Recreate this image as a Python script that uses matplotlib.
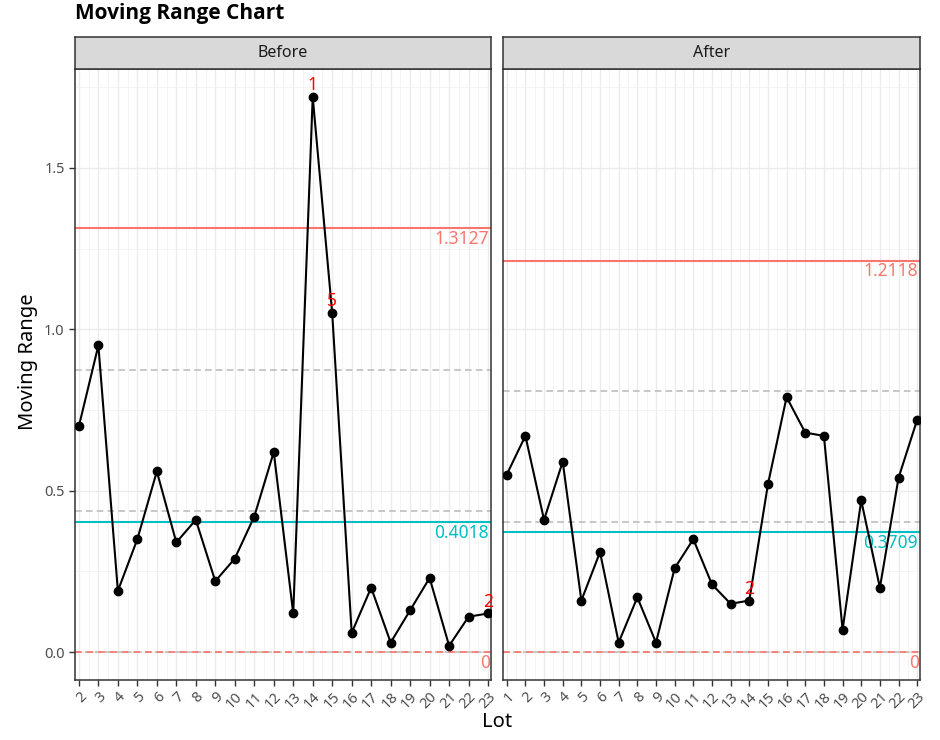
import matplotlib
matplotlib.use("Agg")
import matplotlib.pyplot as plt
from matplotlib.ticker import MultipleLocator

plt.rcParams['font.family'] = ['Noto Sans', 'DejaVu Sans']

# data
lots_before = list(range(2, 24))
mr_before = [0.70, 0.95, 0.19, 0.35, 0.56, 0.34, 0.41, 0.22, 0.29, 0.42, 0.62,
             0.12, 1.72, 1.05, 0.06, 0.20, 0.03, 0.13, 0.23, 0.02, 0.11, 0.12]
lots_after = list(range(1, 24))
mr_after = [0.55, 0.67, 0.41, 0.59, 0.16, 0.31, 0.03, 0.17, 0.03, 0.26, 0.35, 0.21,
            0.15, 0.16, 0.52, 0.79, 0.68, 0.67, 0.07, 0.47, 0.20, 0.54, 0.72]

ucl = {"Before": 1.3127, "After": 1.2118}
cl = {"Before": 0.4018, "After": 0.3709}
lcl = {"Before": 0.0, "After": 0.0}
zones = {"Before": [0.4376, 0.8751], "After": [0.4039, 0.8079]}

# rule violations (lot, label)
flags = {"Before": [(14, "1"), (15, "5"), (23, "2")], "After": [(14, "2")]}

panels = [("Before", lots_before, mr_before), ("After", lots_after, mr_after)]

RED = "#F8766D"
CYAN = "#00BFC4"
DARK = "#333333"

fig = plt.figure(figsize=(9.4, 7.4), dpi=100)
W, H = 940, 740
boxes = [(75, 491), (503, 920)]
top, bot, strip_top = 69, 680, 37

ymin = -0.086
ymax = 1.806

for i, (name, lots, mr) in enumerate(panels):
    x0, x1 = boxes[i]
    ax = fig.add_axes([x0 / W, 1 - bot / H, (x1 - x0) / W, (bot - top) / H])
    ax.set_xlim(lots[0] - 0.2, lots[-1] + 0.15)
    ax.set_ylim(ymin, ymax)

    ax.xaxis.set_major_locator(MultipleLocator(1))
    ax.xaxis.set_minor_locator(MultipleLocator(0.5))
    ax.yaxis.set_major_locator(MultipleLocator(0.5))
    ax.yaxis.set_minor_locator(MultipleLocator(0.25))
    ax.grid(True, which='major', color='#EBEBEB', linewidth=1.0)
    ax.grid(True, which='minor', color='#F2F2F2', linewidth=0.6)
    ax.set_axisbelow(True)

    for s in ax.spines.values():
        s.set_color(DARK)
        s.set_linewidth(1.1)

    ax.tick_params(axis='both', which='major', length=4, width=1, color=DARK,
                   labelcolor='#4D4D4D', labelsize=10.5)
    ax.tick_params(which='minor', length=0)
    ax.set_xticks(lots)
    ax.set_xticklabels([str(l) for l in lots], rotation=45, ha='right', va='top',
                       rotation_mode='anchor')
    ax.tick_params(axis='x', pad=3)
    if i == 0:
        ax.set_yticks([0, 0.5, 1.0, 1.5])
        ax.set_yticklabels(["0.0", "0.5", "1.0", "1.5"])
    else:
        ax.tick_params(axis='y', left=False, labelleft=False)

    # zone lines
    ax.axhline(0, color='#BEBEBE', linestyle='--', linewidth=1.2, dashes=(4, 2))
    for z in zones[name]:
        ax.axhline(z, color='#BEBEBE', linestyle='--', linewidth=1.2, dashes=(4, 2.5))

    # control limits
    ax.axhline(ucl[name], color=RED, linewidth=1.5)
    ax.axhline(cl[name], color=CYAN, linewidth=1.5)
    ax.axhline(lcl[name], color=RED, linewidth=1.2, linestyle='--', dashes=(4, 3))

    xr = lots[-1] + 0.05
    ax.annotate(f"{ucl[name]:.4f}", (xr, ucl[name]), xytext=(0, -1), textcoords='offset points',
                ha='right', va='top', color=RED, fontsize=12.5)
    ax.annotate(f"{cl[name]:.4f}", (xr, cl[name]), xytext=(0, -1), textcoords='offset points',
                ha='right', va='top', color=CYAN, fontsize=12.5)
    ax.annotate(f"{lcl[name]:g}", (xr + 0.05, lcl[name]), xytext=(0, -1), textcoords='offset points',
                ha='right', va='top', color=RED, fontsize=12.5)

    ax.plot(lots, mr, color='black', linewidth=1.5, marker='o', markersize=6, zorder=5)

    for lot, lab in flags[name]:
        yv = mr[lots.index(lot)]
        ax.annotate(lab, (lot, yv), xytext=(0, 2), textcoords='offset points',
                    ha='center', va='bottom', color='red', fontsize=12.5, zorder=6,
                    annotation_clip=True)

    # facet strip
    sax = fig.add_axes([x0 / W, 1 - top / H, (x1 - x0) / W, (top - strip_top) / H])
    sax.set_facecolor('#D9D9D9')
    sax.set_xticks([])
    sax.set_yticks([])
    for s in sax.spines.values():
        s.set_color(DARK)
        s.set_linewidth(1.1)
    sax.text(0.5, 0.5, name, ha='center', va='center', fontsize=11.5, color='#1A1A1A',
             transform=sax.transAxes)

fig.text(75 / W, 1 - 14 / H, "Moving Range Chart", fontsize=15, fontweight='bold',
         family=['Open Sans', 'DejaVu Sans'], ha='left', va='center')
fig.text(28 / W, 1 - 362 / H, "Moving Range", rotation=90, fontsize=14.5,
         ha='center', va='center')
fig.text(497 / W, 1 - 722 / H, "Lot", fontsize=14.5, ha='center', va='center')

fig.savefig("out.png", dpi=100)
